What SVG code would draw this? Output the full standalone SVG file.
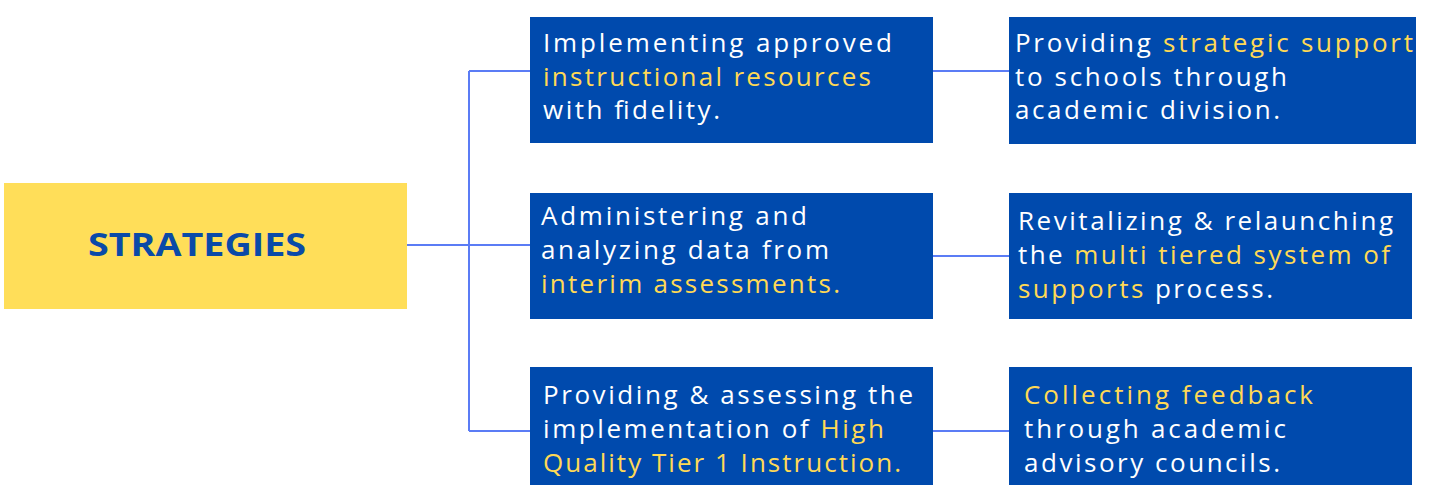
<svg xmlns="http://www.w3.org/2000/svg" width="1434" height="485" viewBox="0 0 1434 485">
<style>
.box{fill:#004aad}
.t{font-family:"Open Sans","Noto Sans",sans-serif;font-size:26px;fill:#ffffff}
.y{fill:#ffd955}
.ln{stroke:#5b7cf5;stroke-width:2;fill:none}
</style>
<rect width="1434" height="485" fill="#ffffff"/>
<g id="connectors">
<path class="ln" d="M407 245H530M469 71V431M469 71H530M469 431H530M933 71H1009M933 256H1009M933 431H1009"/>
</g>
<g id="strategies">
<rect x="4" y="183" width="403" height="126" fill="#ffde59"/>
<text x="88" y="256" textLength="218" lengthAdjust="spacingAndGlyphs" font-family="'Open Sans','Noto Sans',sans-serif" font-weight="bold" font-size="32" fill="#0a4aa8">STRATEGIES</text>
</g>
<g id="n1">
<rect class="box" x="530" y="17" width="403" height="126"/>
<text class="t" x="543" y="52" textLength="349">Implementing approved</text>
<text class="t y" x="543" y="86" textLength="328">instructional resources</text>
<text class="t" x="543" y="119" textLength="177">with fidelity.</text>
</g>
<g id="n2">
<rect class="box" x="530" y="193" width="403" height="126"/>
<text class="t" x="541" y="225" textLength="266">Administering and</text>
<text class="t" x="541" y="259" textLength="288">analyzing data from</text>
<text class="t y" x="541" y="293" textLength="299">interim assessments.</text>
</g>
<g id="n3">
<rect class="box" x="530" y="367" width="403" height="118"/>
<text class="t" x="543" y="404" textLength="370">Providing &amp; assessing the</text>
<text class="t" x="543" y="438" textLength="341">implementation of <tspan class="y">High</tspan></text>
<text class="t y" x="543" y="472" textLength="358">Quality Tier 1 Instruction.</text>
</g>
<g id="n4">
<rect class="box" x="1009" y="17" width="407" height="127"/>
<text class="t" x="1015" y="52" textLength="398">Providing <tspan class="y">strategic support</tspan></text>
<text class="t" x="1015" y="86" textLength="272">to schools through</text>
<text class="t" x="1015" y="119" textLength="265">academic division.</text>
</g>
<g id="n5">
<rect class="box" x="1009" y="193" width="403" height="126"/>
<text class="t" x="1018" y="230" textLength="375">Revitalizing &amp; relaunching</text>
<text class="t" x="1018" y="264" textLength="372">the <tspan class="y">multi tiered system of</tspan></text>
<text class="t" x="1018" y="298" textLength="255"><tspan class="y">supports</tspan> process.</text>
</g>
<g id="n6">
<rect class="box" x="1009" y="367" width="403" height="118"/>
<text class="t y" x="1024" y="404" textLength="289">Collecting feedback</text>
<text class="t" x="1024" y="438" textLength="262">through academic</text>
<text class="t" x="1024" y="472" textLength="256">advisory councils.</text>
</g>
</svg>
